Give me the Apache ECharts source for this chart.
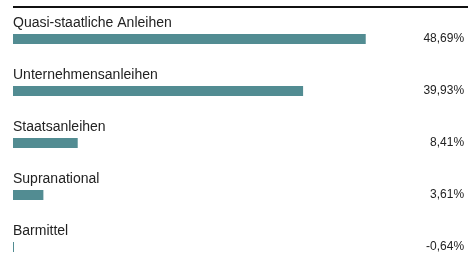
<!DOCTYPE html>
<html>
<head>
<meta charset="utf-8">
<script src="https://cdn.jsdelivr.net/npm/echarts@6/dist/echarts.min.js"></script>
<style>html,body{margin:0;padding:0;background:#fff}#c{width:468px;height:253px}</style>
</head>
<body>
<div id="c"></div>
<script>
var categories = ['Quasi-staatliche Anleihen', 'Unternehmensanleihen', 'Staatsanleihen', 'Supranational', 'Barmittel'];
var values = [48.69, 39.93, 8.41, 3.61, -0.64];
var valueLabels = values.map(function (v) { return v.toFixed(2).replace('.', ',') + '%'; });
var axisMin = Math.min.apply(null, values);

var BAR = '#528c92';
var chart = echarts.init(document.getElementById('c'), null, { renderer: 'canvas' });
chart.setOption({
  animation: false,
  graphic: [{
    type: 'line', shape: { x1: 13, y1: 7, x2: 468, y2: 7 },
    style: { stroke: '#111', lineWidth: 2 }
  }],
  grid: { left: 13, top: 39, width: 362.1, bottom: 6, containLabel: false },
  xAxis: { type: 'value', min: axisMin, max: 50, startValue: axisMin, show: false },
  yAxis: [{
    type: 'category', data: categories, inverse: true, boundaryGap: false,
    axisLine: { show: false }, axisTick: { show: false }, splitLine: { show: false },
    axisLabel: {
      inside: true, margin: 0, align: 'left', verticalAlign: 'bottom',
      padding: [0, 0, 9, 0], fontFamily: 'Liberation Sans', fontSize: 14,
      lineHeight: 14, color: '#222'
    }
  }, {
    type: 'category', data: valueLabels, inverse: true, boundaryGap: false,
    position: 'right', offset: 89,
    axisLine: { show: false }, axisTick: { show: false }, splitLine: { show: false },
    axisLabel: {
      inside: true, margin: 0, align: 'right', verticalAlign: 'middle',
      fontFamily: 'Liberation Sans', fontSize: 12, color: '#222'
    }
  }],
  series: [{
    type: 'bar', yAxisIndex: 0, barWidth: 10, barMinHeight: 1,
    itemStyle: { color: BAR },
    data: values
  }]
});
</script>
</body>
</html>
